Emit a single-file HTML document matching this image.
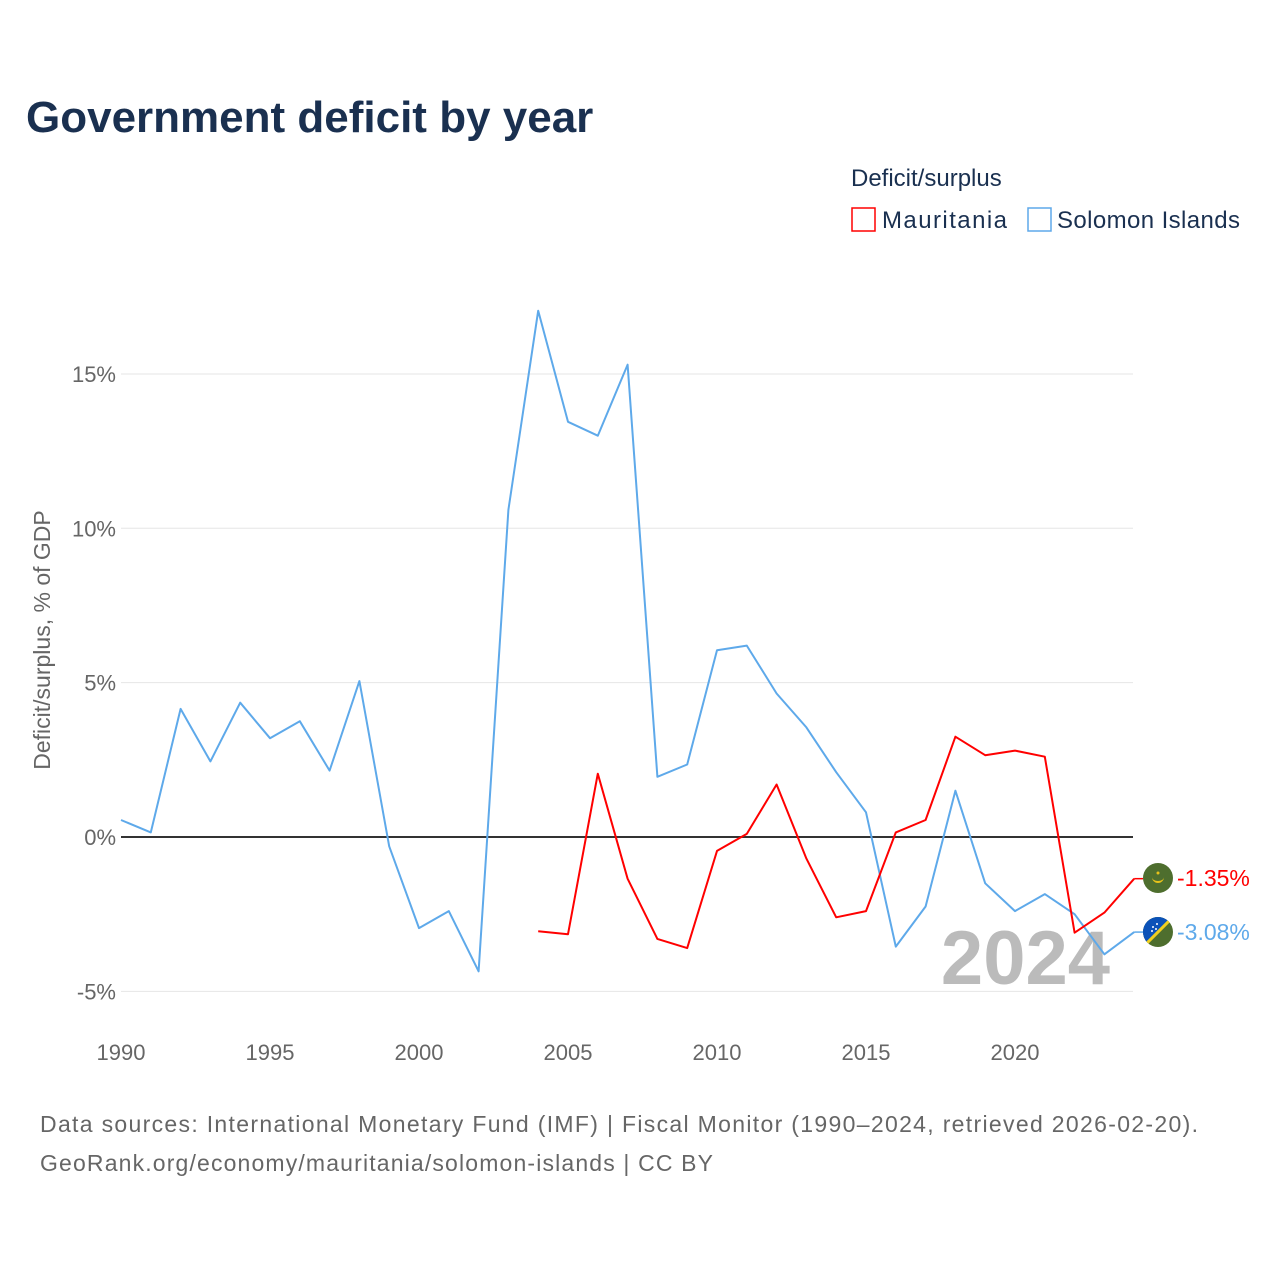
<!DOCTYPE html>
<html><head><meta charset="utf-8">
<style>
body{margin:0;background:#fff;font-family:"Liberation Sans",sans-serif;}
#wrap{position:relative;width:1280px;height:1280px;}
</style></head>
<body>
<div id="wrap">
<svg id="chart" width="1280" height="1280" xmlns="http://www.w3.org/2000/svg">
<text x="26" y="132" font-size="44" font-weight="bold" fill="#1a3050">Government deficit by year</text>
<text x="851" y="186" font-size="24" fill="#1a3050">Deficit/surplus</text>
<g>
<rect x="852" y="208" width="23" height="23" fill="none" stroke="#ff0000" stroke-width="1.5"/>
<text x="882" y="228" font-size="24" fill="#1a3050" textLength="125">Mauritania</text></g>
<g>
<rect x="1028" y="208" width="23" height="23" fill="none" stroke="#5ea9ea" stroke-width="1.5"/>
<text x="1057" y="228" font-size="24" fill="#1a3050" textLength="183">Solomon Islands</text></g>
<text transform="translate(50,640) rotate(-90)" text-anchor="middle" font-size="23" fill="#666">Deficit/surplus, % of GDP</text>
<g id="grid"></g><g id="yticks"></g><g id="xticks"></g>
<text x="1110" y="984" text-anchor="end" font-size="76" font-weight="bold" fill="#bbb">2024</text>
<g id="series"></g>
<g>
<circle cx="1158" cy="878" r="15" fill="#4e6e2e"/>
<path d="M1152 877 a6 6 0 0 0 12 0 a6 4 0 0 1 -12 0z" fill="#e8c21a"/>
<circle cx="1158" cy="873" r="1.5" fill="#e8c21a"/></g>
<g>
<clipPath id="sc"><circle cx="1158" cy="932" r="15"/></clipPath>
<g clip-path="url(#sc)"><rect x="1143" y="917" width="30" height="30" fill="#4e6e2e"/>
<polygon points="1143,917 1173,917 1143,947" fill="#0b52b8"/>
<line x1="1143" y1="947" x2="1173" y2="917" stroke="#f0d020" stroke-width="3"/></g>
<circle cx="1153" cy="927" r="1" fill="#fff"/><circle cx="1157" cy="924" r="1" fill="#fff"/><circle cx="1152" cy="931" r="1" fill="#fff"/><circle cx="1156" cy="929" r="1" fill="#fff"/></g>
<text x="1177" y="886" font-size="23" fill="#ff0000">-1.35%</text>
<text x="1177" y="940" font-size="23" fill="#5ea9ea">-3.08%</text>
<text x="40" y="1132" font-size="23" fill="#666" textLength="1158">Data sources: International Monetary Fund (IMF) | Fiscal Monitor (1990–2024, retrieved 2026-02-20).</text>
<text x="40" y="1171" font-size="23" fill="#666" textLength="673">GeoRank.org/economy/mauritania/solomon-islands | CC BY</text>
</svg>
</div>
<script>
const years=[1990,1991,1992,1993,1994,1995,1996,1997,1998,1999,2000,2001,2002,2003,2004,2005,2006,2007,2008,2009,2010,2011,2012,2013,2014,2015,2016,2017,2018,2019,2020,2021,2022,2023,2024];
const solomon=[0.55,0.15,4.15,2.45,4.35,3.2,3.75,2.15,5.05,-0.3,-2.95,-2.4,-4.35,10.6,17.05,13.45,13.0,15.3,1.95,2.35,6.05,6.2,4.65,3.55,2.1,0.8,-3.55,-2.25,1.5,-1.5,-2.4,-1.85,-2.5,-3.8,-3.08];
const mauritania=[null,null,null,null,null,null,null,null,null,null,null,null,null,null,-3.05,-3.15,2.05,-1.35,-3.3,-3.6,-0.45,0.1,1.7,-0.7,-2.6,-2.4,0.15,0.55,3.25,2.65,2.8,2.6,-3.1,-2.45,-1.35];
const yTicks=[-5,0,5,10,15];
const yTickLabels=["-5%","0%","5%","10%","15%"];
const xTicks=[1990,1995,2000,2005,2010,2015,2020];
const NS="http://www.w3.org/2000/svg";
const x=v=>121+(v-1990)*29.8;
const y=v=>837-v*30.87;
function mk(t,a,p){const e=document.createElementNS(NS,t);for(const k in a)e.setAttribute(k,a[k]);p.appendChild(e);return e;}
const grid=document.getElementById('grid'),yt=document.getElementById('yticks'),xt=document.getElementById('xticks'),ser=document.getElementById('series');
yTicks.forEach((t,i)=>{
 const l=mk('line',{x1:121,x2:1133,y1:y(t),y2:y(t),stroke:t===0?'#333':'#e6e6e6','stroke-width':t===0?2:1},grid);
 
 
 const tx=mk('text',{x:116,y:y(t)+8,'text-anchor':'end','font-size':22,fill:'#666'},yt);
 tx.textContent=yTickLabels[i];
 
 
});
xTicks.forEach(t=>{
 const tx=mk('text',{x:x(t),y:1060,'text-anchor':'middle','font-size':22,fill:'#666'},xt);
 tx.textContent=t;
 
 
});
function line(vals,color,name){
 const pts=[];vals.forEach((v,i)=>{if(v!==null)pts.push(x(years[i]).toFixed(1)+','+y(v).toFixed(1));});
 const p=mk('polyline',{points:pts.join(' '),fill:'none',stroke:color,'stroke-width':2,'stroke-linejoin':'round'},ser);
 
 
 const last=vals[vals.length-1];
 const c=mk('line',{x1:x(years[years.length-1]),x2:1143,y1:y(last),y2:y(last),stroke:color,'stroke-width':1.5},ser);
 
 
}
line(solomon,'#5ea9ea','solomon-islands-line');
line(mauritania,'#ff0000','mauritania-line');
</script>
</body></html>
